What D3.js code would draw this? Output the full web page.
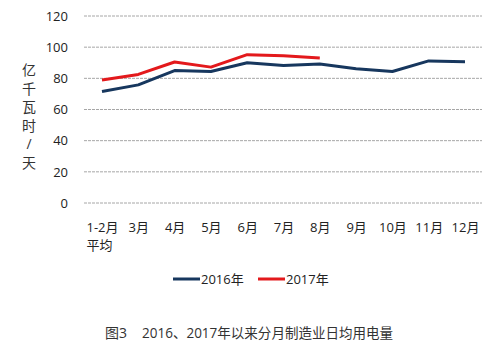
<!DOCTYPE html>
<html><head><meta charset="utf-8">
<script src="https://cdn.jsdelivr.net/npm/d3@7"></script>
<style>body{margin:0;background:#fff}svg{display:block}text{font-family:"Open Sans","Noto Sans CJK SC",sans-serif}</style>
</head><body>
<script>
const categories = ["1-2月|平均","3月","4月","5月","6月","7月","8月","9月","10月","11月","12月"];
const series2016 = [71.5,75.8,85,84.4,90,88.2,89.2,86.2,84.4,91.2,90.6];
const series2017 = [79,82.5,90.5,87.2,95.2,94.5,93];
const yTicks = [0,20,40,60,80,100,120];
const legendNames = ["2016年","2017年"];
const colors = ["#17375e","#e3191c"];

const W=492,H=343;
const svg=d3.select("body").append("svg").attr("width",W).attr("height",H);
const x=d3.scalePoint().domain(categories).range([102,465]);
const y=d3.scaleLinear().domain([0,120]).range([203,16]);

const grid=svg.append("g");
yTicks.forEach(t=>{
  grid.append("line").attr("x1",84).attr("x2",482).attr("y1",y(t)).attr("y2",y(t))
    .attr("stroke","#a6a6a6").attr("stroke-width",1).attr("stroke-dasharray","3,1");
});
const ya=svg.append("g").attr("transform","translate(68,0)")
  .call(d3.axisLeft(y).tickValues(yTicks).tickSize(0).tickPadding(0));
ya.select(".domain").remove();
ya.selectAll("text").attr("font-size",13).attr("fill","#222").attr("font-family","'Open Sans',sans-serif");

const xa=svg.append("g").attr("transform","translate(0,218)")
  .call(d3.axisBottom(x).tickSize(0).tickPadding(0).tickFormat(()=>""));
xa.select(".domain").remove();
xa.selectAll(".tick").each(function(d){
  const parts=d.split("|");
  const g=d3.select(this);
  g.append("text").attr("y",14).attr("text-anchor","middle").attr("font-size",13).attr("fill","#222").text(parts[0]);
  if(parts[1]) g.append("text").attr("y",32).attr("x",-3).attr("text-anchor","middle").attr("font-size",13).attr("fill","#222").text(parts[1]);
});

// y title
const yt="亿千瓦时/天";
[...yt].forEach((c,i)=>{
  svg.append("text").attr("x",29).attr("y",75+i*18.5).attr("text-anchor","middle")
    .attr("font-size",14).attr("fill","#333").attr("font-family","'Noto Sans CJK SC',sans-serif").text(c);
});

const line=d3.line().x((d,i)=>x(categories[i])).y(d=>y(d));
[series2016,series2017].forEach((s,k)=>{
  svg.append("path").datum(s).attr("d",line).attr("fill","none")
    .attr("stroke",colors[k]).attr("stroke-width",3).attr("stroke-linejoin","round");
});

// legend
const lg=[{x:173,name:legendNames[0],c:colors[0]},{x:258,name:legendNames[1],c:colors[1]}];
lg.forEach(l=>{
  svg.append("line").attr("x1",l.x).attr("x2",l.x+27).attr("y1",279).attr("y2",279).attr("stroke",l.c).attr("stroke-width",3);
  svg.append("text").attr("x",l.x+28).attr("y",284).attr("font-size",13).attr("fill","#222").text(l.name);
});

svg.append("text").attr("x",105).attr("y",338).attr("font-size",14).attr("fill","#333")
  .attr("font-family","'Noto Sans CJK SC',sans-serif").text("图3");
svg.append("text").attr("x",142).attr("y",338).attr("font-size",14).attr("fill","#333")
  .attr("font-family","'Noto Sans CJK SC',sans-serif")
  .attr("textLength",251).attr("lengthAdjust","spacingAndGlyphs")
  .text("2016、2017年以来分月制造业日均用电量");
</script>
</body></html>
